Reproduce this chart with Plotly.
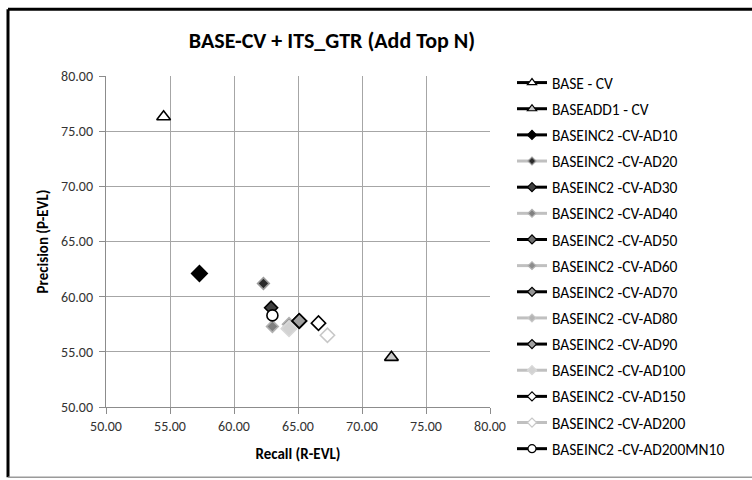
import plotly.graph_objects as go

# Series names, recall (x) and precision (y) values
series_names = [
    "BASE - CV", "BASEADD1 - CV",
    "BASEINC2 -CV-AD10", "BASEINC2 -CV-AD20", "BASEINC2 -CV-AD30",
    "BASEINC2 -CV-AD40", "BASEINC2 -CV-AD50", "BASEINC2 -CV-AD60",
    "BASEINC2 -CV-AD70", "BASEINC2 -CV-AD80", "BASEINC2 -CV-AD90",
    "BASEINC2 -CV-AD100", "BASEINC2 -CV-AD150", "BASEINC2 -CV-AD200",
    "BASEINC2 -CV-AD200MN10",
]
recall = [54.5, 72.3, 57.3, 62.3, 62.9, 63.0, 65.1, 64.3, 65.1, 64.3, 65.1, 64.3, 66.6, 67.3, 63.0]
precision = [76.3, 54.5, 62.1, 61.2, 59.0, 57.3, 57.8, 57.5, 57.8, 57.2, 57.8, 57.1, 57.6, 56.5, 58.3]

# Marker styling per series: symbol, fill, outline, size, legend line colour
symbols = ["triangle-up", "triangle-up"] + ["diamond"] * 12 + ["circle"]
fills = ["#ffffff", "#c8c8c8", "#000000", "#2a2a2a", "#404040", "#808080", "#707070",
         "#8c8c8c", "#969696", "#b4b4b4", "#a0a0a0", "#d2d2d2", "#ffffff", "#ffffff", "#ffffff"]
outlines = ["#000000", "#000000", "#000000", "#9a9a9a", "#000000", "#b0b0b0", "#000000",
            "#b0b0b0", "#000000", "#c8c8c8", "#000000", "#d8d8d8", "#000000", "#c8c8c8", "#000000"]
sizes = [12, 12, 12, 9, 10, 9, 11, 10, 11, 10, 11, 12, 11, 11, 11]
legend_sizes = [8, 8, 7, 6, 7, 6, 7, 6, 7, 6, 7, 7, 7, 7, 8]
line_colors = ["#000000", "#000000", "#000000", "#c0c0c0", "#000000", "#c0c0c0", "#000000",
               "#c0c0c0", "#000000", "#c0c0c0", "#000000", "#c0c0c0", "#000000", "#c0c0c0", "#000000"]

FONT = "Calibri, Carlito, 'Open Sans', 'Liberation Sans', sans-serif"

fig = go.Figure()
for i, name in enumerate(series_names):
    marker = dict(symbol=symbols[i], color=fills[i],
                  line=dict(color=outlines[i], width=1.6))
    # the data point itself
    fig.add_trace(go.Scatter(
        x=[recall[i]], y=[precision[i]],
        name=name, mode="markers", legendgroup=f"g{i}", showlegend=False,
        marker=dict(marker, size=sizes[i]),
    ))
    # legend entry: line sample with a smaller marker
    fig.add_trace(go.Scatter(
        x=[None], y=[None],
        name=name, mode="lines+markers", legendgroup=f"g{i}", showlegend=True,
        line=dict(color=line_colors[i], width=3),
        marker=dict(marker, size=legend_sizes[i], line=dict(color=outlines[i], width=1.2)),
    ))

axis_common = dict(
    range=[50, 80], dtick=5, tickformat=".2f",
    showgrid=True, gridcolor="#a6a6a6", gridwidth=1,
    showline=True, linecolor="#8c8c8c", linewidth=1,
    ticks="outside", ticklen=6, tickcolor="#8c8c8c",
    tickfont=dict(family=FONT, size=14, color="#333333"),
    zeroline=False, fixedrange=True,
)

fig.update_xaxes(**axis_common,
                 title=dict(text="<b>Recall (R-EVL)</b>", standoff=14,
                            font=dict(family=FONT, size=15, color="#000000")))
fig.update_yaxes(**axis_common, ticksuffix=" ",
                 title=dict(text="<b>Precision (P-EVL)</b>", standoff=8,
                            font=dict(family=FONT, size=15, color="#000000")))

# Outer chart frame: dark left/top edges, light bottom edge
fig.add_shape(type="line", xref="paper", yref="paper",
              x0=(8 - 106) / 384, x1=(8 - 106) / 384,
              y0=(406.7 - 477) / 331, y1=(406.7 - 9) / 331,
              line=dict(color="#000000", width=3))
fig.add_shape(type="line", xref="paper", yref="paper",
              x0=(8 - 106) / 384, x1=(770 - 106) / 384,
              y0=(406.7 - 9) / 331, y1=(406.7 - 9) / 331,
              line=dict(color="#000000", width=3))
fig.add_shape(type="line", xref="paper", yref="paper",
              x0=(8 - 106) / 384, x1=(770 - 106) / 384,
              y0=(406.7 - 477) / 331, y1=(406.7 - 477) / 331,
              line=dict(color="#9a9a9a", width=1.5))

fig.update_layout(
    width=752, height=480,
    margin=dict(l=106, r=262, t=76, b=73, autoexpand=False),
    paper_bgcolor="#ffffff", plot_bgcolor="#ffffff",
    title=dict(text="<b>BASE-CV + ITS_GTR (Add Top N)</b>",
               x=332 / 752, xanchor="center", y=1 - 40 / 480, yanchor="middle",
               font=dict(family=FONT, size=22, color="#000000")),
    legend=dict(x=(512 - 106) / 384, xanchor="left",
                y=1 + 10 / 331, yanchor="top",
                maxheight=460,
                font=dict(family=FONT, size=15.5, color="#000000"),
                traceorder="grouped", tracegroupgap=3,
                bgcolor="rgba(0,0,0,0)"),
    showlegend=True,
)

fig.write_html("out.html")
